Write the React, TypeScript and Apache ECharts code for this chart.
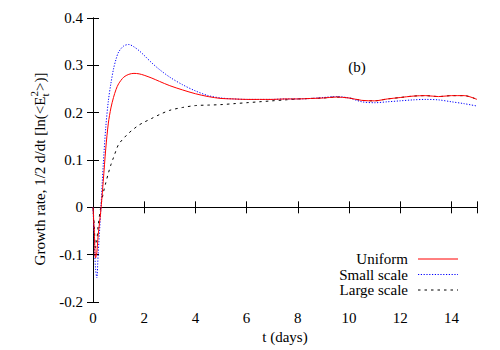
import React, { useEffect, useRef } from "react";
import * as echarts from "echarts";

const tDays = [0, 0.05, 0.1, 0.15, 0.2, 0.3, 0.4, 0.5, 0.6, 0.7, 0.8, 0.9, 1.0, 1.2, 1.4, 1.6, 1.8, 2.0, 2.3, 2.6, 3.0, 3.5, 4.0, 4.5, 5.0, 5.5, 6.0, 6.5, 7.0, 7.5, 8.0, 8.5, 9.0, 9.5, 10.0, 10.5, 11.0, 11.5, 12.0, 12.5, 13.0, 13.5, 14.0, 14.5, 15.0];

const uniform = [0, -0.05, -0.107, -0.095, -0.06, -0.01, 0.055, 0.125, 0.178, 0.21, 0.232, 0.249, 0.261, 0.275, 0.281, 0.283, 0.282, 0.279, 0.273, 0.266, 0.257, 0.248, 0.240, 0.234, 0.230, 0.229, 0.228, 0.228, 0.228, 0.229, 0.229, 0.230, 0.231, 0.233, 0.231, 0.226, 0.225, 0.229, 0.232, 0.235, 0.236, 0.234, 0.236, 0.236, 0.228];

const smallScale = [0, -0.07, -0.13, -0.149, -0.1, -0.01, 0.09, 0.17, 0.225, 0.262, 0.292, 0.313, 0.328, 0.341, 0.344, 0.339, 0.331, 0.321, 0.305, 0.291, 0.275, 0.259, 0.246, 0.236, 0.231, 0.229, 0.228, 0.228, 0.228, 0.229, 0.229, 0.230, 0.232, 0.234, 0.231, 0.223, 0.221, 0.223, 0.225, 0.227, 0.228, 0.227, 0.223, 0.219, 0.214];

const largeScale = [0, -0.04, -0.085, -0.07, -0.04, 0.0, 0.03, 0.052, 0.072, 0.09, 0.105, 0.12, 0.133, 0.146, 0.157, 0.166, 0.174, 0.18, 0.188, 0.196, 0.205, 0.211, 0.215, 0.216, 0.217, 0.219, 0.221, 0.223, 0.225, 0.227, 0.229, 0.230, 0.231, 0.233, 0.231, 0.226, 0.225, 0.229, 0.232, 0.235, 0.236, 0.234, 0.236, 0.236, 0.228];

const seriesNames = ["Uniform", "Small scale", "Large scale"];
const seriesColors = ["#ff0000", "#0000ff", "#000000"];
const seriesDash: any[] = ["solid", [1.2, 1.6], [2.5, 4]];
const seriesValues = [uniform, smallScale, largeScale];

const FONT = "Liberation Serif";
const FS = 15;

export default function App() {
  const ref = useRef<HTMLDivElement>(null);
  useEffect(() => {
    if (!ref.current) return;
    const chart = echarts.init(ref.current, null, { renderer: "svg" });

    const canvas = document.createElement("canvas");
    const ctx = canvas.getContext("2d")!;
    const measure = (s: string, size: number) => {
      ctx.font = `${size}px "${FONT}"`;
      return ctx.measureText(s).width;
    };
    const part1 = "Growth rate, 1/2 d/dt [ln(<E";
    const part3 = ">)]";
    const w1 = measure(part1, FS);
    const wSup = Math.max(measure("2", 11), measure("t", 11));
    const w3 = measure(part3, FS);
    const total = w1 + wSup + w3;
    const x0 = -total / 2;

    const axisLine = { show: true, lineStyle: { color: "#000", width: 1 } };
    const labelStyle = { fontFamily: FONT, fontSize: FS, color: "#000" };

    const legendGraphics: any[] = [];
    seriesNames.forEach((n, i) => {
      const y = 259 + i * 15.5;
      legendGraphics.push({
        type: "text",
        x: 408,
        y,
        style: { text: n, fontFamily: FONT, fontSize: FS, fill: "#000", align: "right", verticalAlign: "middle" },
      });
      legendGraphics.push({
        type: "line",
        shape: { x1: 418, y1: y, x2: 458, y2: y },
        style: { stroke: seriesColors[i], lineWidth: 1, lineDash: seriesDash[i] === "solid" ? null : seriesDash[i] },
      });
    });

    chart.setOption({
      animation: false,
      backgroundColor: "#fff",
      grid: { left: 93, right: 23, top: 18, bottom: 48, containLabel: false },
      xAxis: [
        {
          type: "value",
          min: 0,
          max: 15,
          interval: 2,
          position: "bottom",
          name: "t (days)",
          nameLocation: "middle",
          nameGap: 27,
          nameTextStyle: labelStyle,
          axisLine,
          axisTick: { show: true, inside: true, length: 6, lineStyle: { color: "#000" } },
          axisLabel: { ...labelStyle, margin: 8, formatter: (v: number) => (v % 2 === 0 ? String(v) : "") },
          splitLine: { show: false },
        },
        {
          type: "value",
          min: 0,
          max: 15,
          interval: 2,
          position: "top",
          axisLine,
          axisTick: { show: true, inside: true, length: 6, lineStyle: { color: "#000" } },
          axisLabel: { show: false },
          splitLine: { show: false },
        },
      ],
      yAxis: [
        {
          type: "value",
          min: -0.2,
          max: 0.4,
          interval: 0.1,
          position: "left",
          axisLine,
          axisTick: { show: true, inside: true, length: 6, lineStyle: { color: "#000" } },
          axisLabel: {
            ...labelStyle,
            margin: 10,
            formatter: (v: number) => {
              const r = Math.round(v * 10) / 10;
              return r === 0 ? "0" : r.toFixed(1);
            },
          },
          splitLine: { show: false },
        },
        {
          type: "value",
          min: -0.2,
          max: 0.4,
          interval: 0.1,
          position: "right",
          axisLine,
          axisTick: { show: true, inside: true, length: 6, lineStyle: { color: "#000" } },
          axisLabel: { show: false },
          splitLine: { show: false },
        },
      ],
      series: seriesNames.map((n, i) => ({
        name: n,
        type: "line",
        xAxisIndex: 0,
        yAxisIndex: 0,
        data: tDays.map((t, k) => [t, seriesValues[i][k]]),
        showSymbol: false,
        smooth: 0.3,
        lineStyle: { color: seriesColors[i], width: 1, type: seriesDash[i] },
        z: 3 - i,
      })),
      graphic: [
        {
          type: "group",
          x: 40,
          y: 169,
          rotation: Math.PI / 2,
          children: [
            { type: "text", x: x0, y: 0, style: { text: part1, fontFamily: FONT, fontSize: FS, fill: "#000", verticalAlign: "middle" } },
            { type: "text", x: x0 + w1, y: -6, style: { text: "2", fontFamily: FONT, fontSize: 11, fill: "#000", verticalAlign: "middle" } },
            { type: "text", x: x0 + w1, y: 5, style: { text: "t", fontFamily: FONT, fontSize: 11, fill: "#000", verticalAlign: "middle" } },
            { type: "text", x: x0 + w1 + wSup, y: 0, style: { text: part3, fontFamily: FONT, fontSize: FS, fill: "#000", verticalAlign: "middle" } },
          ],
        },
        {
          type: "text",
          x: 357,
          y: 67,
          style: { text: "(b)", fontFamily: FONT, fontSize: FS, fill: "#000", align: "center", verticalAlign: "middle" },
        },
        ...legendGraphics,
      ],
    });
    return () => chart.dispose();
  }, []);
  return <div ref={ref} style={{ width: 500, height: 350, position: "absolute", left: 0, top: 0 }} />;
}
